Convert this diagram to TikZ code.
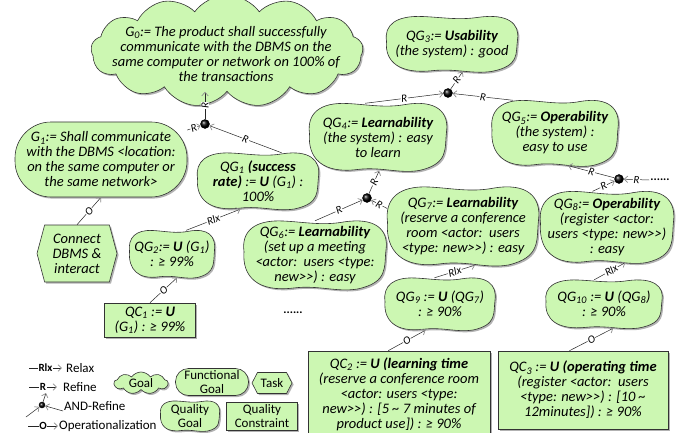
\documentclass[tikz,border=0pt]{standalone}
\usepackage{fontspec}
\setmainfont{Carlito}
\usetikzlibrary{shapes.symbols,shapes.misc,shadows,backgrounds,arrows.meta,calc}
\definecolor{qgreen}{RGB}{204,247,178}
\definecolor{edgegray}{RGB}{140,140,140}
\newcommand\gtgt{>\kern0pt>}
\tikzset{
  shd/.style={drop shadow={shadow xshift=1.6pt, shadow yshift=-1.6pt, opacity=0.3, fill=black}},
  gshape/.style={draw=black!80, line width=0.6pt, fill=qgreen, shd},
  ntext/.style={font=\fontsize{14.5}{15}\selectfont\itshape, align=center, inner sep=0pt},
  qgtext/.style={ntext, shape=rectangle},
  goal/.style={gshape, cloud, cloud puffs=13, cloud puff arc=110, cloud ignores aspect, inner sep=0pt},
  fgoal/.style={gshape, rectangle, rounded corners=36pt, ntext},
  task/.style={gshape, signal, signal to=east and west, signal pointer angle=150, ntext},
  qc/.style={gshape, rectangle, ntext},
  blob/.style={gshape},
  anddot/.style={circle, inner sep=0pt, minimum size=9pt, ball color=black, draw=black},
  lnk/.style={draw=black!85, line width=0.5pt, -{Straight Barb[length=3.5pt,width=6.5pt,color=edgegray,line width=0.7pt]}},
  elab/.style={font=\fontsize{11}{11}\selectfont\itshape, fill=white, inner sep=0.6pt, sloped},
  legt/.style={font=\fontsize{13}{13.5}\selectfont, align=center, inner sep=0pt},
  legl/.style={font=\fontsize{11}{11}\selectfont\bfseries, fill=white, inner sep=0.6pt},
  dotstext/.style={font=\fontsize{12}{12}\selectfont\bfseries, inner sep=1pt},
}
% quality goal: name, x, y, half width, half height, text
\newcommand\qgnode[7][]{%
  \node[qgtext, #1, minimum width={2*#5pt}, minimum height={2*#6pt}] (#2) at (#3,#4) {#7};
  \begin{scope}[on background layer]
    \path[blob, shift={(#2.center)}, x=#5pt, y=#6pt]
      (-1,0.1) .. controls (-1.04,0.7) and (-0.85,1.04) .. (-0.45,1.0)
      .. controls (-0.15,0.97) and (0.1,0.86) .. (0.4,0.97)
      .. controls (0.85,1.12) and (1.04,0.75) .. (1,0.15)
      .. controls (0.97,-0.35) and (1.04,-0.8) .. (0.6,-1.0)
      .. controls (0.3,-1.1) and (0.05,-0.88) .. (-0.3,-0.97)
      .. controls (-0.8,-1.1) and (-1.03,-0.65) .. (-1,0.1) -- cycle;
  \end{scope}}
\begin{document}
\begin{tikzpicture}[x=1pt, y=-1pt]
\useasboundingbox (0,0) rectangle (682,433);
\begin{scope}[on background layer]
  \fill[white] (0,0) rectangle (682,433);
\end{scope}

% goals
\node[goal, minimum width=272pt, minimum height=112pt] (g0) at (227,51) {};
\node[ntext] (g0t) at (226,54) {G\textsubscript{0}:= The product shall successfully\\communicate with the DBMS on the\\same computer or network on 100\% of\\the transactions};
\node[fgoal, minimum width=172pt, minimum height=75pt] (g1) at (101,159.5) {G\textsubscript{1}:= Shall communicate\\with the DBMS <location:\\on the same computer or\\the same network>};
\node[task, minimum width=80pt, minimum height=57pt] (task) at (77,253.5) {Connect\\DBMS \&\\interact};

% quality goals
\qgnode{qg1}{258}{181}{60.5}{28}{QG\textsubscript{1} \textbf{(success}\\\textbf{rate)} := \textbf{U} (G\textsubscript{1}) :\\100\%}
\qgnode{qg2}{172}{254}{42.5}{23.5}{QG\textsubscript{2}:= \textbf{U} (G\textsubscript{1})\\: ≥ 99\%}
\qgnode{qg3}{452}{44}{65.5}{27.5}{QG\textsubscript{3}:= \textbf{Usability}\\(the system) : good}
\qgnode{qg4}{378}{137}{68.5}{33.5}{QG\textsubscript{4}:= \textbf{Learnability}\\(the system) : easy\\to learn}
\qgnode{qg5}{555}{133}{63}{32.5}{QG\textsubscript{5}:= \textbf{Operability}\\(the system) :\\easy to use}
\qgnode{qg6}{315}{255}{71}{34}{QG\textsubscript{6}:= \textbf{Learnability}\\(set up a meeting\\<actor:\ \ users <type:\\new\gtgt) : easy}
\qgnode{qg7}{463}{226}{75.5}{39}{QG\textsubscript{7}:= \textbf{Learnability}\\(reserve a conference\\room <actor:\ \ users\\<type: new\gtgt) : easy}
\qgnode{qg8}{607}{227}{66.5}{35.5}{QG\textsubscript{8}:= \textbf{Operability}\\(register <actor:\\users <type: new\gtgt)\\: easy}
\qgnode{qg9}{440}{304}{55}{26}{QG\textsubscript{9} := \textbf{U} (QG\textsubscript{7})\\: ≥ 90\%}
\qgnode{qg10}{604}{304}{58}{24}{QG\textsubscript{10} := \textbf{U} (QG\textsubscript{8})\\: ≥ 90\%}

% quality constraints
\node[qc, minimum width=91pt, minimum height=34pt] (qc1) at (150,320) {QC\textsubscript{1} := \textbf{U}\\(G\textsubscript{1}) : ≥ 99\%};
\node[qc, minimum width=182pt, minimum height=86pt] (qc2) at (399,394) {QC\textsubscript{2} := \textbf{U (learning time}\\(reserve a conference room\\<actor: users <type:\\new\gtgt) : [5 \textasciitilde\ 7 minutes of\\product use]) : ≥ 90\%};
\node[qc, minimum width=170pt, minimum height=78pt] (qc3) at (583,390) {QC\textsubscript{3} := \textbf{U (operating time}\\(register <actor:\ \ users\\<type: new\gtgt) : [10 \textasciitilde\\12minutes]) : ≥ 90\%};

\node[dotstext] (dots1) at (293,313) {......};
\node[dotstext] (dots2) at (660,180) {......};

% AND-refinement points
\node[anddot] (and1) at (205,124) {};
\node[anddot] (and2) at (448,93) {};
\node[anddot] (and3) at (367,198) {};
\node[anddot] (and4) at (619,179) {};

% links
\draw[lnk] (g1) -- node[elab]{R} (and1);
\draw[lnk] (qg1.50) -- node[elab]{R} (and1);
\draw[lnk] (and1) -- node[elab]{R} (and1 |- g0.south);
\draw[lnk] (task.north) -- node[elab]{O} (g1.south);
\draw[lnk] (qg2.59) -- node[elab]{Rlx} (qg1.238);
\draw[lnk] (qc1.north) -- node[elab]{O} (qg2.282);
\draw[lnk] (qg4.111) -- node[elab]{R} (and2);
\draw[lnk] (qg5.142) -- node[elab]{R} (and2);
\draw[lnk] (and2) -- node[elab]{R} (qg3.291);
\draw[lnk] (qg6.north) -- node[elab]{R} (and3);
\draw[lnk] (qg7.167) -- node[elab]{R} (and3);
\draw[lnk] (and3) -- node[elab]{R} (qg4.272);
\draw[lnk] (qg8.112) -- node[elab]{R} (and4);
\draw[lnk] (dots2.west) -- node[elab]{R} (and4);
\draw[lnk] (and4) -- node[elab]{R} (qg5.292);
\draw[lnk] (qg9.102) -- node[elab]{Rlx} (qg7.287);
\draw[lnk] (qg10.112) -- node[elab, pos=0.55]{Rlx} (qg8.297);
\draw[lnk] (qc2.104) -- node[elab]{O} (qg9.241);
\draw[lnk] (qc3.109) -- node[elab]{O} (qg10.291);

% legend
\coordinate (lx1) at (29,368); \coordinate (lx2) at (62,368);
\draw[lnk] (lx1) -- node[legl]{Rlx} (lx2);
\node[legt, anchor=west] (lrelax) at (66,368) {Relax};
\coordinate (lr1) at (29,387); \coordinate (lr2) at (57,387);
\draw[lnk] (lr1) -- node[legl]{R} (lr2);
\node[legt, anchor=west] (lrefine) at (63,387) {Refine};
\node[anddot, minimum size=6pt] (land) at (42,405) {};
\coordinate (la1) at (26,417); \coordinate (la2) at (63,411); \coordinate (la3) at (46,393);
\draw[lnk] (la1) -- (land);
\draw[lnk] (la2) -- (land);
\draw[lnk] (land) -- (la3);
\node[legt, anchor=west] (landt) at (64,406) {AND-Refine};
\coordinate (lo1) at (28,426); \coordinate (lo2) at (58,426);
\draw[lnk] (lo1) -- node[legl]{O} (lo2);
\node[legt, anchor=west] (lop) at (59,426) {Operationalization};

\node[goal, legt, cloud puffs=9, minimum width=54pt, minimum height=22pt] (lgoal) at (141,383) {Goal};
\node[fgoal, legt, rounded corners=13pt, minimum width=73pt, minimum height=27pt] (lfgoal) at (212,382) {Functional\\Goal};
\node[task, legt, signal pointer angle=125, minimum width=40pt, minimum height=21pt] (ltask) at (272,383) {Task};
\qgnode[legt]{lqgoal}{190}{416}{29.5}{15}{Quality\\Goal}
\node[qc, legt, minimum width=71pt, minimum height=28pt] (lqc) at (262,416) {Quality\\Constraint};
\end{tikzpicture}
\end{document}
